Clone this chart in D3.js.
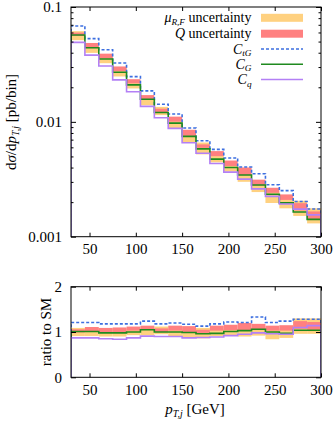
<!DOCTYPE html>
<html>
<head>
<meta charset="utf-8">
<script src="https://cdnjs.cloudflare.com/ajax/libs/d3/7.8.5/d3.min.js"></script>
<style>
body{margin:0;background:#fff}
svg{display:block;font-family:"Liberation Serif",serif}
</style>
</head>
<body>
<svg width="335" height="425"></svg>
<script>
// bins in pT,j [GeV]
var binEdges = [30,45,60,75,90,105,120,135,150,165,180,195,210,225,240,255,270,285,300]
// SM central value per bin [pb/bin]
var smXsec = [0.0565,0.0438,0.0360,0.0276,0.0210,0.0150,0.01205,0.00974,0.00755,0.00606,0.00488,0.00397,0.00334,0.00266,0.00234,0.00203,0.00158,0.00136]
// ratios to SM
var ratioCtG = [1.21,1.21,1.18,1.18,1.18,1.24,1.18,1.20,1.17,1.13,1.18,1.22,1.21,1.33,1.21,1.24,1.28,1.28]
var ratioCG  = [1.01,1.01,0.98,0.98,1.00,1.05,1.00,1.00,0.99,0.96,0.97,1.01,1.03,1.06,1.00,0.97,1.04,1.04]
var ratioCq  = [0.87,0.87,0.85,0.84,0.87,0.91,0.90,0.90,0.87,0.88,0.89,0.92,0.95,0.98,0.96,0.95,1.10,1.14]
var muLo = [0.91,0.91,0.90,0.90,0.93,0.93,0.95,0.89,0.87,0.86,0.91,0.93,0.90,0.92,0.84,0.87,0.96,0.96]
var muHi = [1.09,1.09,1.08,1.08,1.07,1.08,1.12,1.07,1.05,1.09,1.06,1.07,1.06,1.10,1.05,1.08,1.30,1.30]
var qLo  = [0.99,1.00,0.99,1.00,1.03,1.05,1.00,1.03,1.00,0.98,1.03,1.04,1.03,1.05,1.03,1.03,1.07,1.05]
var qHi  = [1.06,1.11,1.09,1.10,1.12,1.14,1.08,1.14,1.13,1.05,1.14,1.16,1.20,1.18,1.14,1.15,1.24,1.22]

var xTicks = [50,100,150,200,250,300]
var yTicksTop = [0.001,0.01,0.1]
var yTickLabelsTop = ["0.001","0.01","0.1"]
var yTicksRatio = [0,1,2]

var cOrange = "#ffd180", cRed = "#ff8080", cBlue = "#3d6fe0", cGreen = "#1f8a1f", cPurple = "#b380f5"

var svg = d3.select("svg")
var L = 71, R = 321
var topT = 7, topB = 236.7, botT = 286.7, botB = 377.3

var x = d3.scaleLinear().domain([30,300]).range([L,R])
var yTop = d3.scaleLog().domain([0.001,0.1]).range([topB,topT])
var yRat = d3.scaleLinear().domain([0,2]).range([botB,botT])

var nb = smXsec.length

function panel(y, isTop){
  var g = svg.append("g")
  var clipId = isTop ? "clipTop" : "clipBot"
  g.append("clipPath").attr("id", clipId).append("rect")
    .attr("x", L).attr("y", y.range()[1]).attr("width", R-L).attr("height", y.range()[0]-y.range()[1])
  var pg = g.append("g").attr("clip-path", "url(#"+clipId+")")
  var f = function(i, r){ return isTop ? smXsec[i]*r : r }

  // bands
  ;[[muLo,muHi,cOrange],[qLo,qHi,cRed]].forEach(function(b){
    pg.append("g").selectAll("rect").data(d3.range(nb)).join("rect")
      .attr("x", i => x(binEdges[i]))
      .attr("width", i => x(binEdges[i+1]) - x(binEdges[i]))
      .attr("y", i => y(f(i, b[1][i])))
      .attr("height", i => y(f(i, b[0][i])) - y(f(i, b[1][i])))
      .attr("fill", b[2])
  })

  // step lines, dropping to the axis at both ends
  var base = y.domain()[0]
  var line = d3.line().x(d => x(d[0])).y(d => y(d[1])).curve(d3.curveStepAfter)
  ;[[ratioCtG,cBlue,"3,2"],[ratioCG,cGreen,null],[ratioCq,cPurple,null]].forEach(function(s){
    var pts = [[binEdges[0], base]]
    for (var i = 0; i < nb; i++) pts.push([binEdges[i], f(i, s[0][i])])
    pts.push([binEdges[nb], f(nb-1, s[0][nb-1])])
    pg.append("path").attr("d", line(pts) + "L" + x(binEdges[nb]) + "," + y(base))
      .attr("fill","none").attr("stroke", s[1]).attr("stroke-width", 1.6)
      .attr("stroke-dasharray", s[2])
  })

  // frame and ticks
  var fy = y.range()
  g.append("rect").attr("x", L).attr("y", fy[1]).attr("width", R-L).attr("height", fy[0]-fy[1])
    .attr("fill","none").attr("stroke","#000").attr("stroke-width",1)

  var ax = g.append("g").attr("transform","translate(0,"+fy[0]+")")
    .call(d3.axisBottom(x).tickValues(xTicks).tickSize(-4).tickPadding(7).tickFormat(d3.format("d")))
  ax.select(".domain").remove()
  ax.selectAll("text").attr("font-size", 15).attr("font-family", "Liberation Serif")
  var ax2 = g.append("g").attr("transform","translate(0,"+fy[1]+")")
    .call(d3.axisTop(x).tickValues(xTicks).tickSize(-4).tickFormat(""))
  ax2.select(".domain").remove()

  var yt = isTop ? yTicksTop : yTicksRatio
  var ay = g.append("g").attr("transform","translate("+L+",0)")
    .call(d3.axisLeft(y).tickValues(yt).tickSize(-5).tickPadding(9)
      .tickFormat(isTop ? (d,i) => yTickLabelsTop[i] : d3.format("d")))
  ay.select(".domain").remove()
  ay.selectAll("text").attr("font-size", 15).attr("font-family", "Liberation Serif")
  var ay2 = g.append("g").attr("transform","translate("+R+",0)")
    .call(d3.axisRight(y).tickValues(yt).tickSize(-5).tickFormat(""))
  ay2.select(".domain").remove()

  if (isTop){
    var minor = y.ticks().filter(v => yTicksTop.indexOf(v) < 0)
    var am = g.append("g").attr("transform","translate("+L+",0)")
      .call(d3.axisLeft(y).tickValues(minor).tickSize(-2.5).tickFormat(""))
    am.select(".domain").remove()
    var am2 = g.append("g").attr("transform","translate("+R+",0)")
      .call(d3.axisRight(y).tickValues(minor).tickSize(-2.5).tickFormat(""))
    am2.select(".domain").remove()
  }
  g.selectAll(".tick line").attr("stroke","#000")
}

panel(yTop, true)
panel(yRat, false)

// math-ish text helper: parts [text, italic, sub]
function mtext(sel, parts, size){
  var cur = 0
  parts.forEach(function(p){
    var shift = p[2] ? size*0.18 : 0
    sel.append("tspan").text(p[0])
      .attr("font-style", p[1] ? "italic" : "normal")
      .attr("font-size", p[2] ? size*0.66 : size)
      .attr("dy", shift - cur)
    cur = shift
  })
}

// legend
var legRows = [
  {parts:[["μ",1,0],["R,F",1,1],[" uncertainty",0,0]], type:"band", color:cOrange},
  {parts:[["Q",1,0],[" uncertainty",0,0]], type:"band", color:cRed},
  {parts:[["C",1,0],["tG",1,1]], type:"line", color:cBlue, dash:"3,2"},
  {parts:[["C",1,0],["G",1,1]], type:"line", color:cGreen},
  {parts:[["C",1,0],["q",1,1]], type:"line", color:cPurple}
]
var legY = [17.8,33.7,49,64.3,79.5]
legRows.forEach(function(r,i){
  var t = svg.append("text").attr("x", 251.5).attr("y", legY[i]+4.5).attr("text-anchor","end")
  mtext(t, r.parts, 14)
  if (r.type == "band"){
    svg.append("rect").attr("x", 261).attr("y", legY[i]-4).attr("width", 42).attr("height", 8).attr("fill", r.color)
  } else {
    svg.append("line").attr("x1", 261).attr("x2", 303).attr("y1", legY[i]).attr("y2", legY[i])
      .attr("stroke", r.color).attr("stroke-width", 1.6).attr("stroke-dasharray", r.dash || null)
  }
})

// axis titles
var yl = svg.append("text").attr("transform","translate(16,122) rotate(-90)").attr("text-anchor","middle")
mtext(yl, [["d",0,0],["σ",1,0],["/d",0,0],["p",1,0],["T,j",1,1],[" [pb/bin]",0,0]], 15)
svg.append("text").attr("transform","translate(51,332) rotate(-90)").attr("text-anchor","middle")
  .attr("font-size", 15).text("ratio to SM")
var xl = svg.append("text").attr("x", 195).attr("y", 414).attr("text-anchor","middle")
mtext(xl, [["p",1,0],["T,j",1,1],[" [GeV]",0,0]], 15)
</script>
</body>
</html>
